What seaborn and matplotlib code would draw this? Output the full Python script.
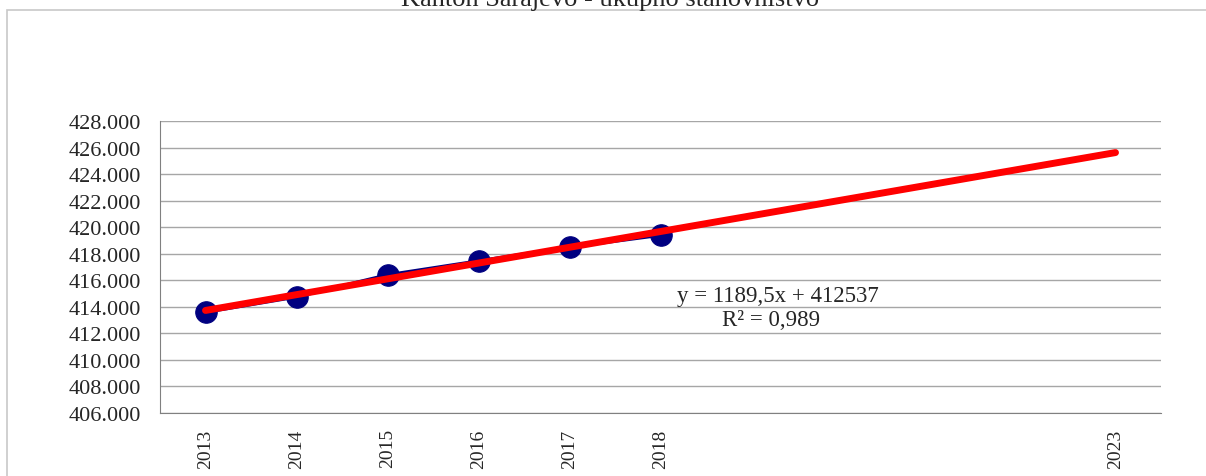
import numpy as np
import pandas as pd
import matplotlib
matplotlib.use("Agg")
import matplotlib.pyplot as plt
import seaborn as sns
from matplotlib.patches import Rectangle

# data
years = ["2013", "2014", "2015", "2016", "2017", "2018", "", "", "", "", "2023"]
population = [413600, 414750, 416400, 417450, 418500, 419400]
trend_slope = 1189.5
trend_intercept = 412537
y_ticks = list(range(406000, 428001, 2000))
title = "Kanton Sarajevo - ukupno stanovništvo"
eq_text = "y = 1189,5x + 412537"
r2_text = "R² = 0,989"

sns.set_style("white")
plt.rcParams["font.family"] = ["Liberation Serif", "DejaVu Serif"]

fig = plt.figure(figsize=(12.06, 4.77), dpi=100)
ax = fig.add_axes([160 / 1206, 1 - 414 / 477, (1161 - 160) / 1206, (414 - 122) / 477])

# chart frame like the Excel chart area
fig.patches.append(Rectangle((7 / 1206, -0.05), 1.1, 1 - 11 / 477 + 0.05,
                             transform=fig.transFigure, fill=False,
                             edgecolor="#c8c8c8", lw=1.2, zorder=0))

df = pd.DataFrame({"x": np.arange(len(population)), "pop": population})
sns.lineplot(data=df, x="x", y="pop", ax=ax, color="#000080", lw=2.5,
             marker="o", markersize=15.5, markeredgecolor="#000080", zorder=3)

xt = np.arange(1, len(years) + 1)
trend = trend_slope * xt + trend_intercept
ax.plot(xt - 1, trend, color="#ff0000", lw=5, solid_capstyle="round", zorder=4)

ax.set_xlim(-0.5, len(years) - 0.5)
ax.set_ylim(y_ticks[0], y_ticks[-1])
ax.set_yticks(y_ticks)
ax.set_yticklabels([f"{v // 1000}.{v % 1000:03d}" for v in y_ticks], fontsize=16)
ax.set_xticks(np.arange(len(years)))
ax.set_xticklabels(years, rotation=90, fontsize=14)
ax.set_xticks(np.arange(len(years) + 1) - 0.5, minor=True)
ax.tick_params(axis="x", which="major", length=0, pad=11)
ax.tick_params(axis="x", which="minor", length=6, color="#808080", direction="out")
ax.tick_params(axis="y", length=6, color="#808080", direction="out", pad=8)
ax.grid(axis="y", color="#a6a6a6", lw=1)
ax.set_axisbelow(True)
ax.set_xlabel("")
ax.set_ylabel("")
for s in ["top", "right"]:
    ax.spines[s].set_visible(False)
for s in ["left", "bottom"]:
    ax.spines[s].set_color("#808080")

fig.text(610 / 1206, 1 - 6 / 477, title, ha="center", va="baseline", fontsize=19)
ax.text(778 / 1206, 1 - 297 / 477, eq_text, transform=fig.transFigure,
        ha="center", va="center", fontsize=16.5)
ax.text(771 / 1206, 1 - 321 / 477, r2_text, transform=fig.transFigure,
        ha="center", va="center", fontsize=16.5)

fig.savefig("out.png", dpi=100)
